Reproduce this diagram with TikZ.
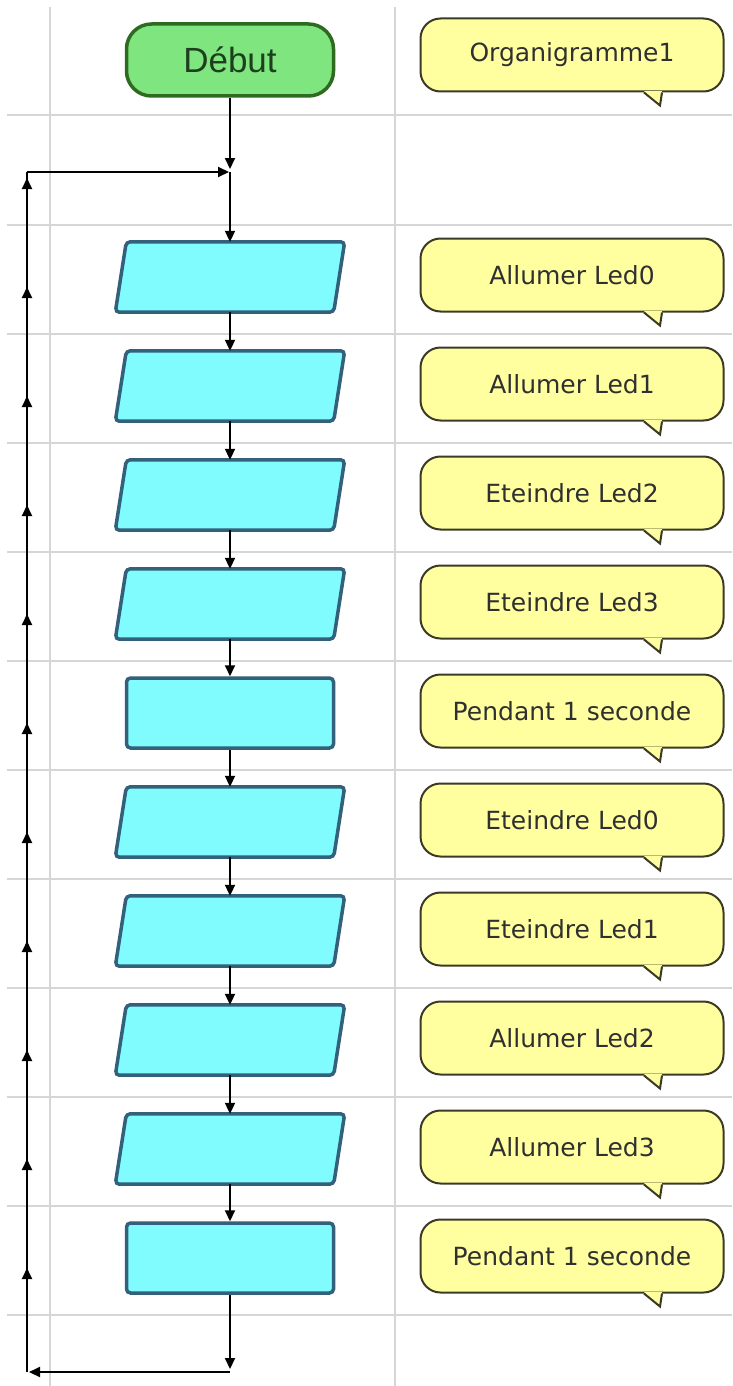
\documentclass[tikz,border=0pt]{standalone}
\usepackage{fontspec}
\setmainfont{DejaVu Sans}
\newfontfamily\arialf{Liberation Sans}
\usetikzlibrary{arrows.meta,decorations.markings}
\definecolor{gridc}{HTML}{D6D6D6}
\definecolor{debfill}{HTML}{7FE67F}
\definecolor{debdraw}{HTML}{2E6A20}
\definecolor{debtext}{HTML}{1E3F1E}
\definecolor{cyanfill}{HTML}{80FCFF}
\definecolor{cyandraw}{HTML}{33607A}
\definecolor{cfill}{HTML}{FFFFA0}
\definecolor{cdraw}{HTML}{3A3A26}
\definecolor{ctext}{HTML}{303030}
\tikzset{
  gridline/.style={draw=gridc, line width=1.5pt},
  debut/.style={draw=debdraw, fill=debfill, line width=3.5pt, rounded corners=25pt,
    minimum width=207pt, minimum height=72pt, inner sep=0pt,
    font=\arialf\fontsize{35}{40}\selectfont, text=debtext},
  pbase/.style={minimum width=218pt, minimum height=70pt, inner sep=0pt},
  parashape/.style={draw=cyandraw, fill=cyanfill, line width=3.5pt, rounded corners=4pt},
  rbox/.style={draw=cyandraw, fill=cyanfill, line width=3.5pt, rounded corners=4pt,
    minimum width=207pt, minimum height=70pt, inner sep=0pt},
  callout/.style={draw=cdraw, fill=cfill, line width=2pt, rounded corners=20pt,
    minimum width=303pt, minimum height=73pt, inner sep=0pt,
    font=\fontsize{25}{30}\selectfont, text=ctext},
  conn/.style={draw=black, line width=2pt},
  tipshape/.style={},
  arr/.style={conn, -{Triangle[length=11pt,width=10pt]}},
}
\newcommand{\parabox}[2]{%
  \node[pbase] (#1) at (230,#2) {};
  \filldraw[parashape] ([xshift=5.5pt]#1.north west) -- ([xshift=5.5pt]#1.north east)
    -- ([xshift=-5.5pt]#1.south east) -- ([xshift=-5.5pt]#1.south west) -- cycle;}
\newcommand{\calltail}[1]{%
  \fill[cfill] ([xshift=72pt,yshift=1.3pt]#1.south) -- ([xshift=88pt,yshift=-13pt]#1.south)
    -- ([xshift=90pt,yshift=1.3pt]#1.south) -- cycle;
  \draw[draw=cdraw, line width=2pt] ([xshift=72pt]#1.south) -- ([xshift=88pt,yshift=-13pt]#1.south)
    -- ([xshift=90pt]#1.south);}
\begin{document}
\begin{tikzpicture}[x=1pt,y=-1pt]
\useasboundingbox (0,0) rectangle (732,1386);
% grid
\foreach \y in {115,225,334,443,552,661,770,879,988,1097,1206,1315}
  \draw[gridline] (7,\y) -- (732,\y);
\draw[gridline] (50,7) -- (50,1386);
\draw[gridline] (395,7) -- (395,1386);
% start
\node[debut] (deb) at (230,60) {Début};
% boxes
\parabox{b1}{277}
\parabox{b2}{386}
\parabox{b3}{495}
\parabox{b4}{604}
\node[rbox] (b5) at (230,713) {};
\parabox{b6}{822}
\parabox{b7}{931}
\parabox{b8}{1040}
\parabox{b9}{1149}
\node[rbox] (b10) at (230,1258) {};
% callouts
\node[callout] (c0) at (572,55) {Organigramme1}; \calltail{c0}
\node[callout] (c1) at (572,275) {Allumer Led0}; \calltail{c1}
\node[callout] (c2) at (572,384) {Allumer Led1}; \calltail{c2}
\node[callout] (c3) at (572,493) {Eteindre Led2}; \calltail{c3}
\node[callout] (c4) at (572,602) {Eteindre Led3}; \calltail{c4}
\node[callout] (c5) at (572,711) {Pendant 1 seconde}; \calltail{c5}
\node[callout] (c6) at (572,820) {Eteindre Led0}; \calltail{c6}
\node[callout] (c7) at (572,929) {Eteindre Led1}; \calltail{c7}
\node[callout] (c8) at (572,1038) {Allumer Led2}; \calltail{c8}
\node[callout] (c9) at (572,1147) {Allumer Led3}; \calltail{c9}
\node[callout] (c10) at (572,1256) {Pendant 1 seconde}; \calltail{c10}
% loop coordinates
\coordinate (jtop) at (230,172);
\coordinate (tl) at (27,172);
\coordinate (jbot) at (230,1372);
\coordinate (bl) at (27,1372);
% connectors
\draw[arr, shorten >=3pt] (deb.south) -- (jtop);
\draw[arr, shorten >=1pt] (tl) -- (jtop);
\draw[arr] (jtop) -- (b1.north);
\draw[arr] (b1.south) -- (b2.north);
\draw[arr] (b2.south) -- (b3.north);
\draw[arr] (b3.south) -- (b4.north);
\draw[arr] (b4.south) -- (b5.north);
\draw[arr] (b5.south) -- (b6.north);
\draw[arr] (b6.south) -- (b7.north);
\draw[arr] (b7.south) -- (b8.north);
\draw[arr] (b8.south) -- (b9.north);
\draw[arr] (b9.south) -- (b10.north);
\draw[arr, shorten >=3pt] (b10.south) -- (jbot);
\draw[arr, shorten >=2pt] (jbot) -- (bl);
\draw[conn, postaction={decorate}, decoration={markings,
  mark=at position 104pt with {\arrow{Triangle[length=11pt,width=10pt]}},
  mark=at position 213pt with {\arrow{Triangle[length=11pt,width=10pt]}},
  mark=at position 322pt with {\arrow{Triangle[length=11pt,width=10pt]}},
  mark=at position 431pt with {\arrow{Triangle[length=11pt,width=10pt]}},
  mark=at position 540pt with {\arrow{Triangle[length=11pt,width=10pt]}},
  mark=at position 649pt with {\arrow{Triangle[length=11pt,width=10pt]}},
  mark=at position 758pt with {\arrow{Triangle[length=11pt,width=10pt]}},
  mark=at position 867pt with {\arrow{Triangle[length=11pt,width=10pt]}},
  mark=at position 976pt with {\arrow{Triangle[length=11pt,width=10pt]}},
  mark=at position 1085pt with {\arrow{Triangle[length=11pt,width=10pt]}},
  mark=at position 1194pt with {\arrow{Triangle[length=11pt,width=10pt]}}}]
  (bl) -- (tl);
\end{tikzpicture}
\end{document}
